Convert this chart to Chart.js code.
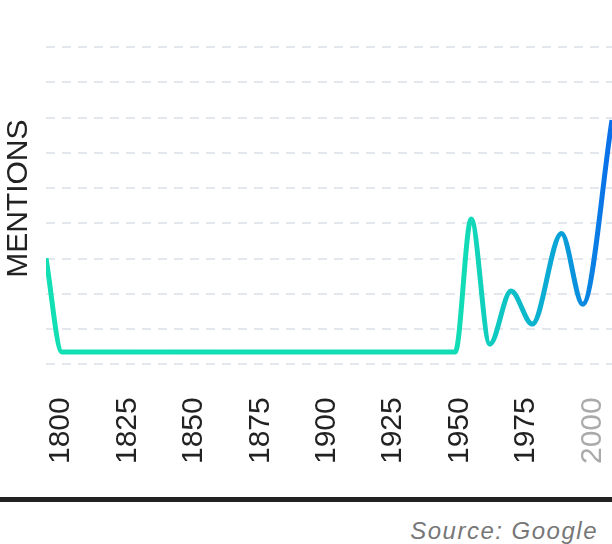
<!DOCTYPE html>
<html>
<head>
<meta charset="utf-8">
<script src="https://cdn.jsdelivr.net/npm/chart.js@4"></script>
<style>
  html, body { margin: 0; padding: 0; background: #fff; }
  body { width: 612px; height: 544px; overflow: hidden; font-family: 'Liberation Sans', Arial, sans-serif; }
  #wrap { position: relative; width: 612px; height: 497px; }
  #rule { width: 612px; height: 5px; background: #222; }
  #source { text-align: right; padding-right: 14px; margin-top: 15px; font-size: 24px; line-height: 28px;
            font-style: italic; letter-spacing: 1.5px; color: #777; }
</style>
</head>
<body>
<div id="wrap"><canvas id="mentionsChart"></canvas></div>
<div id="rule"></div>
<div id="source">Source: Google</div>
<script>
// values (y in grid units, one grid step = 10)
var years    = [1800, 1806, 1954, 1960, 1967, 1975, 1983, 1994, 2002, 2013];
var mentions = [30.1, 3.5,  3.5,  41.2, 5.7,  20.8, 11.4, 37.1, 17.0, 69.3];
var tickYears = [1800, 1825, 1850, 1875, 1900, 1925, 1950, 1975, 2000];
var fadedYear = 2000;

var points = years.map(function (y, i) { return { x: y, y: mentions[i] }; });

function lineGradient(context) {
    var chart = context.chart;
    var area = chart.chartArea;
    if (!area) return '#12e0b4';
    var g = chart.ctx.createLinearGradient(area.left, 0, area.right, 0);
    g.addColorStop(0, '#12e0b4');
    g.addColorStop(0.74, '#12dcb6');
    g.addColorStop(0.9, '#0aa6d6');
    g.addColorStop(1, '#0a6dea');
    return g;
}

var ctx = document.getElementById('mentionsChart').getContext('2d');
var chart = new Chart(ctx, {
    type: 'line',
    data: {
        datasets: [{
            label: 'Mentions',
            data: points,
            borderColor: lineGradient,
            borderWidth: 5,
            pointRadius: 0,
            fill: false,
            cubicInterpolationMode: 'monotone'
        }]
    },
    options: {
        responsive: true,
        maintainAspectRatio: false,
        animation: false,
        layout: { padding: { top: 33, right: 0, bottom: 0, left: 0 } },
        plugins: { legend: { display: false }, tooltip: { enabled: false } },
        scales: {
            x: {
                type: 'linear',
                min: 1800,
                max: 2013,
                grid: { display: false, drawTicks: false },
                border: { display: false },
                afterBuildTicks: function (scale) {
                    scale.ticks = tickYears.map(function (v) { return { value: v }; });
                },
                afterFit: function (scale) {
                    scale.paddingLeft = 0;
                    scale.paddingRight = 0;
                },
                ticks: {
                    autoSkip: false,
                    minRotation: 90,
                    maxRotation: 90,
                    padding: 33,
                    labelOffset: 15,
                    font: { family: "'Liberation Sans', Arial, sans-serif", size: 30 },
                    color: function (c) { return c.tick && c.tick.value === fadedYear ? '#aaaaaa' : '#222222'; },
                    callback: function (v) { return String(v); }
                }
            },
            y: {
                min: 0,
                max: 94,
                ticks: { display: false, stepSize: 10, includeBounds: false },
                grid: { color: '#e4e8ee', lineWidth: 2, drawTicks: false },
                border: { display: false, dash: [9, 7] },
                title: {
                    display: true,
                    text: 'MENTIONS',
                    color: '#222',
                    padding: { top: 1, bottom: 9 },
                    font: { family: "'Liberation Sans', Arial, sans-serif", size: 30 }
                }
            }
        }
    }
});
</script>
</body>
</html>
